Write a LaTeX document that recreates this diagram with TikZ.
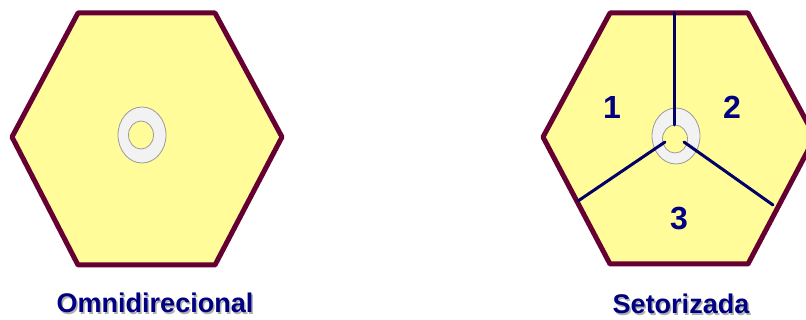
\documentclass[tikz,border=0pt]{standalone}
\usepackage{fontspec}
\setmainfont{Liberation Sans}
\definecolor{hexfill}{HTML}{FFFC99}
\definecolor{hexborder}{HTML}{660033}
\definecolor{navyline}{HTML}{000066}
\definecolor{navytext}{HTML}{000080}
\definecolor{ringfill}{HTML}{F2F2F2}
\definecolor{ringedge}{HTML}{9A9A9A}
\definecolor{shadowc}{HTML}{B0B0B0}
\tikzset{
  hexcell/.style={fill=hexfill, draw=hexborder, line width=5pt, line join=round},
  ringout/.style={fill=ringfill, draw=ringedge, line width=0.8pt},
  ringin/.style={fill=hexfill, draw=ringedge, line width=0.8pt},
  sector/.style={draw=navyline, line width=3pt, line cap=round},
  digit/.style={text=navytext, font=\bfseries\fontsize{32}{32}\selectfont, inner sep=0pt},
  caption/.style={text=navytext, font=\bfseries\fontsize{27}{27}\selectfont, inner sep=0pt},
  capshadow/.style={text=shadowc, font=\bfseries\fontsize{27}{27}\selectfont, inner sep=0pt}
}
\begin{document}
\begin{tikzpicture}[x=1pt,y=-1pt]
\useasboundingbox (0,0) rectangle (806,320);
% left hexagon
\draw[hexcell] (78,13) -- (215,13) -- (282,137) -- (215,265) -- (78,265) -- (12,137) -- cycle;
\draw[ringout] (142,135) ellipse [x radius=24, y radius=28];
\draw[ringin] (141,135) ellipse [x radius=12.5, y radius=14];
% right hexagon
\draw[hexcell] (610,13) -- (748,13) -- (815,137) -- (748,264) -- (610,264) -- (543,137) -- cycle;
\draw[ringout] (676,136) ellipse [x radius=24, y radius=28];
\draw[ringin] (675,139) ellipse [x radius=12.5, y radius=14];
\coordinate (ctop) at (674,13);
\coordinate (cin1) at (674,125);
\coordinate (cin2) at (665,142);
\coordinate (cin3) at (684,142);
\coordinate (cleft) at (578,201);
\coordinate (cright) at (773,205);
\draw[sector] (ctop) -- (cin1);
\draw[sector] (cin2) -- (cleft);
\draw[sector] (cin3) -- (cright);
\node[digit] (d1) at (612,107) {1};
\node[digit] (d2) at (732,107) {2};
\node[digit] (d3) at (679,219) {3};
% captions
\node[capshadow] (omnis) at (156.5,304.5) {Omnidirecional};
\node[caption] (omni) at (155,303) {Omnidirecional};
\node[capshadow] (setors) at (682.5,305.5) {Setorizada};
\node[caption] (setor) at (681,304) {Setorizada};
\end{tikzpicture}
\end{document}
